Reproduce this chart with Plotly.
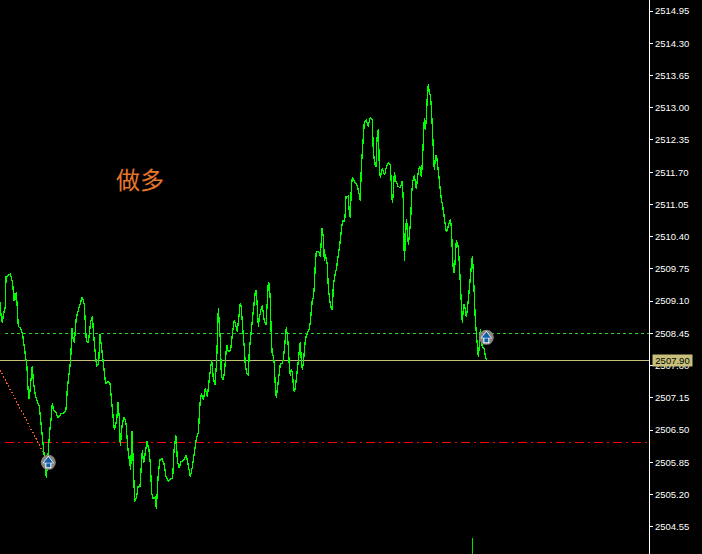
import plotly.graph_objects as go

# Time index of each close (three index steps per chart column) and the close price
ticks = [0,3,7,10,16,18,27,31,38,42,44,46,49,52,55,62,68,73,79,81,84,87,90,93,97,100,105,110,118,123,127,131,139,141,145,149,153,157,160,168,175,183,190,198,202,207,212,216,219,223,226,229,235,240,247,253,256,259,265,272,277,280,284,290,296,300,305,311,317,323,330,335,339,343,348,351,354,358,361,367,373,378,384,388,392,396,400,404,410,414,420,425,427,431,436,441,447,451,455,459,465,469,475,480,486,492,498,505,511,518,522,528,532,537,543,552,559,565,571,577,583,589,595,600,604,610,616,622,628,635,640,645,650,655,658,661,664,670,673,677,680,685,692,698,703,712,718,
 721,724,727,730,733,736,740,745,748,751,754,757,760,763,766,769,772,775,778,781,784,787,790,793,798,802,805,808,811,814,817,820,823,826,829,832,835,838,841,847,850,853,856,859,862,865,868,871,874,877,880,883,886,889,892,895,898,901,904,907,910,913,916,919,922,925,928,931,934,937,940,943,946,949,955,958,961,963,966,970,973,976,979,982,985,988,991,994,997,1000,1003,1006,1009,1012,1015,1018,1021,1024,
 1028,1032,1035,1038,1045,1047,1051,1054,1057,1063,1070,1075,1078,1081,1084,1087,1090,1093,1099,1102,1105,1108,1111,1117,1120,1124,1128,1131,1135,1138,1141,1144,1147,1150,1154,1158,1162,1165,1171,1174,1177,1180,1183,1187,1190,1194,1201,1207,1210,1213,1216,1219,1222,1225,1228,1232,1235,1238,1243,1246,1249,1253,1256,1260,1264,1267,1270,1273,1276,1279,1282,1285,1288,1291,1294,1297,1300,1303,1306,1309,1312,1315,1318,1321,1324,1327,1330,1333,1336,1339,1343,1348,1351,1354,1356,1359,
 1363,1366,1369,1372,1375,1378,1381,1384,1387,1390,1393,1396,1399,1402,1405,1408,1411,1414,1417,1420,1423,1426,1429,1432,1435,1438,1441,1444,1447,1453,1456,1460]
closes = [2509.09,2508.82,2508.67,2508.82,2508.99,2509.59,2509.63,2509.65,2509.46,2509.11,2509.26,2509.12,2509.29,2508.92,2508.59,2508.55,2508.42,2508.17,2507.91,2507.77,2507.34,2507.12,2507.30,2507.48,2507.80,2507.48,2507.24,2507.11,2506.97,2506.64,2506.30,2506.10,2505.53,2505.73,2506.27,2506.47,2506.70,2507.05,2506.91,2506.85,2506.74,2506.84,2506.83,2506.91,2507.34,2507.58,2507.91,2508.55,2508.35,2508.26,2508.52,2508.77,2508.92,2509.02,2509.19,2509.02,2508.52,2508.30,2508.26,2508.69,2508.79,2508.42,2508.17,2507.78,2507.85,2508.44,2508.15,2507.78,2507.43,2507.48,2507.44,2507.07,2506.81,2506.50,2506.64,2506.77,2507.07,2506.74,2506.18,2506.64,2506.77,2506.64,2506.10,2505.90,2505.70,2506.49,2505.63,2505.06,2505.16,2505.36,2505.36,2505.76,2506.09,2505.83,2506.10,2506.27,2506.10,2505.83,2505.23,2505.13,2505.15,2504.92,2505.63,2505.91,2505.92,2505.83,2505.56,2505.46,2505.51,2505.53,2506.10,2506.39,2505.90,2505.73,2505.86,2505.90,2506.00,2505.76,2505.56,2505.76,2506.07,2506.33,2506.44,2507.04,2507.24,2507.11,2507.34,2507.17,2507.54,2507.91,2507.54,2507.41,2507.91,2508.96,2508.62,2508.32,2507.58,2507.51,2507.65,2508.01,2508.22,2508.08,2508.12,2508.49,2508.72,2508.49,2508.92,
 2509.07,2508.96,2508.59,2508.39,2508.15,2507.81,2507.66,2507.60,2508.12,2508.32,2508.52,2508.74,2509.03,2509.21,2509.30,2509.33,2508.78,2508.59,2508.76,2508.89,2508.96,2509.01,2508.89,2508.69,2508.62,2509.26,2509.48,2509.46,2509.10,2508.36,2507.99,2508.02,2507.81,2507.37,2507.15,2507.33,2507.52,2507.71,2507.83,2507.85,2507.93,2508.12,2508.42,2508.58,2508.40,2508.19,2507.78,2507.60,2507.73,2507.65,2507.42,2507.27,2507.35,2507.55,2507.78,2508.02,2508.17,2508.28,2507.89,2507.72,2507.85,2508.19,2508.32,2508.40,2508.46,2508.49,2508.54,2508.69,2508.96,2509.13,2509.16,2509.40,2509.87,2510.10,2510.10,2510.07,2509.99,2510.27,2510.58,2510.39,2509.92,2510.04,2509.92,2509.83,2509.36,2509.11,2509.03,2508.96,2508.92,2509.43,2509.61,2509.66,2509.74,2509.87,2510.01,2510.13,2510.33,2510.53,
 2510.74,2510.70,2510.80,2511.21,2511.22,2510.97,2510.77,2511.41,2511.60,2511.51,2511.46,2511.34,2511.21,2511.13,2511.81,2512.20,2512.52,2512.72,2512.75,2512.68,2512.62,2512.74,2512.79,2512.75,2512.11,2511.88,2511.81,2512.38,2512.58,2511.81,2511.58,2511.71,2511.78,2511.71,2511.64,2511.78,2511.84,2511.90,2511.84,2511.27,2511.09,2511.26,2511.70,2511.54,2511.48,2511.41,2511.39,2511.53,2511.11,2509.90,2510.27,2510.76,2510.60,2510.23,2510.43,2510.74,2511.27,2511.51,2511.64,2511.48,2511.37,2511.61,2511.76,2511.81,2511.61,2511.88,2512.48,2512.79,2512.55,2512.79,2513.26,2513.48,2513.29,2513.26,2513.02,2512.65,2512.05,2511.74,2511.98,2512.05,2511.91,2511.68,2511.44,2511.26,2511.14,2511.07,2510.94,2510.77,2510.60,2510.49,2510.57,2510.70,2510.75,2510.60,2510.27,2509.80,
 2509.66,2510.16,2510.33,2510.27,2510.19,2509.86,2509.49,2508.95,2508.66,2508.95,2509.05,2508.92,2508.78,2508.92,2509.12,2509.39,2509.66,2509.87,2510.01,2509.69,2509.05,2508.72,2508.45,2508.15,2507.98,2508.21,2508.53,2508.31,2508.17,2508.15,2507.98,2507.91]

# Lower fragment near the bottom edge
stub_ticks = [1417, 1417]
stub_prices = [2504.33, 2503.80]

# Horizontal price levels
ask_level = 2508.45
bid_level = 2507.90
stop_level = 2506.255

# Trade entries and the connecting dotted order line
entry_ticks = [145, 1459]
entry_prices = [2505.85, 2508.37]
order_ticks = [0, 140]
order_prices = [2507.71, 2505.92]

tick_labels = ["2514.95","2514.30","2513.65","2513.00","2512.35","2511.70","2511.05","2510.40","2509.75",
               "2509.10","2508.45","2507.80","2507.15","2506.50","2505.85","2505.20","2504.55"]
tick_values = [float(t) for t in tick_labels]

X_MAX = 1947
Y_MIN, Y_MAX = 2504.002, 2515.172

fig = go.Figure()

def hline(level, color, dash, x0=0):
    fig.add_trace(go.Scatter(x=[x0, X_MAX], y=[level, level], mode="lines",
                             line=dict(color=color, width=1, dash=dash), hoverinfo="skip"))

hline(ask_level, "#32cd32", "3px,3px", 15)
hline(bid_level, "#c8c07a", "solid")
hline(stop_level, "#ff0000", "9px,4px,2px,4px", 15)

fig.add_trace(go.Scatter(x=order_ticks, y=order_prices, mode="lines",
                         line=dict(color="#f0582c", width=1.3, dash="1.5px,2px"), hoverinfo="skip"))
fig.add_trace(go.Scatter(x=ticks, y=closes, mode="lines",
                         line=dict(color="#00ff00", width=1.3), hoverinfo="skip"))
fig.add_trace(go.Scatter(x=stub_ticks, y=stub_prices, mode="lines",
                         line=dict(color="#00e000", width=1), hoverinfo="skip"))

# Entry badge: grey disc, white-edged blue up arrow
HEAD = 0.03
STEM = -0.06
def badge(symbol, size, color, offset):
    fig.add_trace(go.Scatter(x=entry_ticks, y=[p + offset for p in entry_prices], mode="markers",
                             marker=dict(symbol=symbol, size=size, color=color, line=dict(width=0)),
                             hoverinfo="skip"))
badge("circle", 15, "#87827c", 0)
badge("triangle-up", 10, "#ffffff", HEAD)
badge("square", 6, "#ffffff", STEM)
badge("triangle-up", 8, "#0a5fa8", HEAD)
badge("square", 4, "#0a5fa8", STEM)

fig.update_layout(
    width=702, height=554, margin=dict(l=0, r=53, t=0, b=0),
    paper_bgcolor="#000000", plot_bgcolor="#000000", showlegend=False,
    xaxis=dict(range=[0, X_MAX], visible=False, fixedrange=True),
    yaxis=dict(range=[Y_MIN, Y_MAX], side="right", tickmode="array", tickvals=tick_values, ticktext=tick_labels,
               showgrid=False, zeroline=False, showline=True, linecolor="#ffffff", linewidth=1,
               ticks="outside", ticklen=3, tickcolor="#ffffff", tickwidth=1,
               tickfont=dict(family="Liberation Sans", size=9.5, color="#ffffff"), fixedrange=True),
    annotations=[
        dict(x=420, y=2511.58, xref="x", yref="y", text="做多", showarrow=False,
             font=dict(family="Noto Sans CJK SC", size=24, color="#e8762c")),
        dict(x=1.0046, y=2507.90, xref="paper", xanchor="left", yref="y", text="2507.90", showarrow=False,
             font=dict(family="Liberation Sans", size=9.5, color="#000000"), bgcolor="#c8c07a", borderpad=0,
             width=39, height=11),
    ],
)

fig.write_html("out.html", config=dict(displayModeBar=False),
               post_script="document.body.style.margin='0';document.body.style.background='#000';"
                           "document.querySelectorAll('.js-line').forEach(function(e){e.style.shapeRendering='crispEdges';});")
